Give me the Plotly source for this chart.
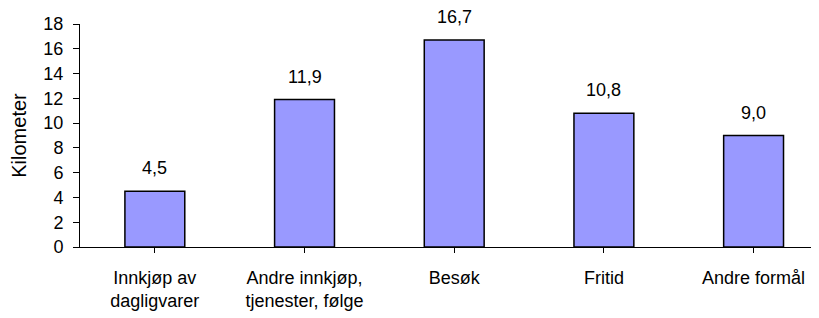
import plotly.graph_objects as go

categories = ["Innkjøp av<br>dagligvarer", "Andre innkjøp,<br>tjenester, følge", "Besøk", "Fritid", "Andre formål"]
values = [4.5, 11.9, 16.7, 10.8, 9.0]
value_labels = ["4,5", "11,9", "16,7", "10,8", "9,0"]
y_ticks = [0, 2, 4, 6, 8, 10, 12, 14, 16, 18]

FONT = "Liberation Sans, Arial, sans-serif"
x_idx = list(range(len(categories)))

fig = go.Figure()
fig.add_trace(go.Bar(
    x=x_idx, y=values, width=0.4,
    marker=dict(color="#9999FF", line=dict(color="black", width=1.5)),
    hoverinfo="skip",
))
for xi, v, lab in zip(x_idx, values, value_labels):
    fig.add_annotation(x=xi, y=v, text=lab, showarrow=False, yshift=23,
                       font=dict(family=FONT, size=18, color="black"))

# page body has an 8px margin; figure is sized to fill the rest of the window
fig.update_layout(
    width=811, height=310,
    margin=dict(l=72, r=0, t=16, b=71),
    plot_bgcolor="white", paper_bgcolor="white",
    showlegend=False,
    font=dict(family=FONT, size=18, color="black"),
)
fig.update_xaxes(
    range=[-0.5, 4.437], tickvals=x_idx, ticktext=categories,
    tickson="boundaries", ticks="outside", ticklen=5, tickcolor="black", tickwidth=1,
    showline=True, linecolor="black", linewidth=1,
    showgrid=False, zeroline=False, ticklabelstandoff=9, automargin=False,
)
fig.update_yaxes(
    range=[0, 18], tickvals=y_ticks,
    ticks="outside", ticklen=6, tickcolor="black", tickwidth=1,
    showline=True, linecolor="black", linewidth=1,
    showgrid=False, zeroline=False, ticklabelstandoff=6, automargin=False,
    title=dict(text="Kilometer", standoff=14, font=dict(size=20)),
)
fig.write_html("out.html")
